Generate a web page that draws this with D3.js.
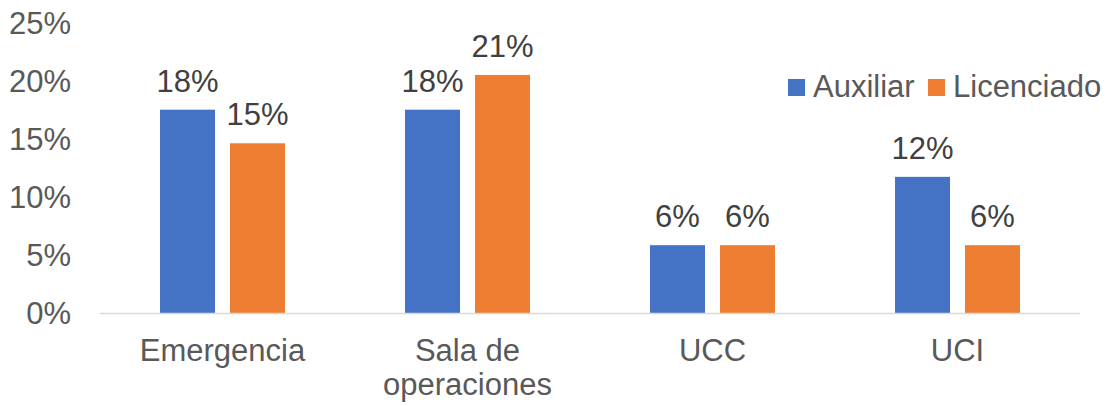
<!DOCTYPE html>
<html>
<head>
<meta charset="utf-8">
<script src="https://cdn.jsdelivr.net/npm/d3@7"></script>
<style>
  body { margin: 0; background: #fff; }
  svg text { font-family: "Liberation Sans", Arial, sans-serif; }
</style>
</head>
<body>
<svg id="chart" width="1108" height="406"></svg>
<script>
const categories = [["Emergencia"], ["Sala de", "operaciones"], ["UCC"], ["UCI"]];
const seriesNames = ["Auxiliar", "Licenciado"];
const auxiliar = [0.176, 0.176, 0.059, 0.118];
const licenciado = [0.147, 0.206, 0.059, 0.059];
const yTicks = [0, 0.05, 0.10, 0.15, 0.20, 0.25];
const colors = ["#4472C4", "#ED7D31"];

const svg = d3.select("#chart");
const catKeys = categories.map(c => c.join(" "));
const fontSize = "31px";

const x = d3.scaleBand()
    .domain(catKeys)
    .range([100, 1080])
    .paddingInner(0.49)
    .paddingOuter(0.245);

const xSub = d3.scaleBand()
    .domain(seriesNames)
    .range([0, x.bandwidth()])
    .paddingInner(0.214);

const y = d3.scaleLinear()
    .domain([0, 0.25])
    .range([313.5, 24]);

// y axis labels, no line
const yAxis = svg.append("g")
    .attr("transform", "translate(100,0)")
    .call(d3.axisLeft(y).tickValues(yTicks).tickFormat(d3.format(".0%")).tickSize(0).tickPadding(29));
yAxis.select(".domain").remove();
yAxis.selectAll("text")
    .attr("font-size", fontSize)
    .attr("fill", "#595959")
    .attr("font-family", "Liberation Sans, Arial, sans-serif");

// bars
const rows = catKeys.map((k, i) => ({ key: k, values: [auxiliar[i], licenciado[i]] }));

const groups = svg.append("g").selectAll("g")
    .data(rows)
    .join("g")
    .attr("transform", d => `translate(${x(d.key)},0)`);

groups.selectAll("rect")
    .data(d => d.values.map((v, j) => ({ name: seriesNames[j], v, j })))
    .join("rect")
    .attr("x", d => xSub(d.name))
    .attr("width", xSub.bandwidth())
    .attr("y", d => y(d.v))
    .attr("height", d => y(0) - y(d.v))
    .attr("fill", d => colors[d.j]);

groups.selectAll("text.val")
    .data(d => d.values.map((v, j) => ({ name: seriesNames[j], v, j })))
    .join("text")
    .attr("class", "val")
    .attr("x", d => xSub(d.name) + xSub.bandwidth() / 2)
    .attr("y", d => y(d.v) - 18)
    .attr("text-anchor", "middle")
    .attr("font-size", fontSize)
    .attr("fill", "#404040")
    .text(d => d3.format(".0%")(d.v));

// x axis line
svg.append("line")
    .attr("x1", 100).attr("x2", 1080)
    .attr("y1", y(0)).attr("y2", y(0))
    .attr("stroke", "#d9d9d9")
    .attr("stroke-width", 1.5);

// category labels
const catLabels = svg.append("g").selectAll("text")
    .data(categories)
    .join("text")
    .attr("x", (d, i) => x(catKeys[i]) + x.bandwidth() / 2)
    .attr("y", 361)
    .attr("text-anchor", "middle")
    .attr("font-size", fontSize)
    .attr("fill", "#595959");
catLabels.selectAll("tspan")
    .data(d => d)
    .join("tspan")
    .attr("x", function () { return this.parentNode.getAttribute("x"); })
    .attr("dy", (d, i) => i === 0 ? 0 : 34)
    .text(d => d);

// legend
const legendX = [788, 928];
const legend = svg.append("g").selectAll("g")
    .data(seriesNames)
    .join("g")
    .attr("transform", (d, i) => `translate(${legendX[i]},79)`);
legend.append("rect")
    .attr("width", 17).attr("height", 17)
    .attr("fill", (d, i) => colors[i]);
legend.append("text")
    .attr("x", 25).attr("y", 18)
    .attr("font-size", fontSize)
    .attr("fill", "#595959")
    .text(d => d);
</script>
</body>
</html>
